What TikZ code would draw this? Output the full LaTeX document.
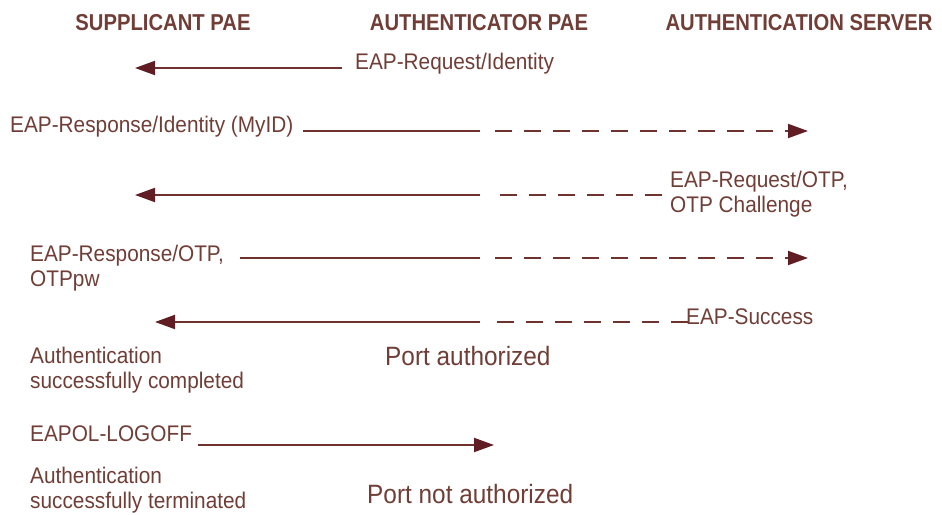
\documentclass[tikz,border=0pt]{standalone}
\usepackage{fontspec}
\setmainfont[FakeStretch=0.92]{Liberation Sans}
\newfontfamily\headfont[FakeStretch=0.88]{Liberation Sans}
\usetikzlibrary{arrows.meta}
\definecolor{txtbrown}{RGB}{112,62,54}
\definecolor{linebrown}{RGB}{112,50,46}
\definecolor{headbrown}{RGB}{96,30,36}
\tikzset{
  heading/.style={anchor=base, inner sep=0pt, text=txtbrown,
    font=\headfont\fontsize{23}{26}\selectfont\bfseries},
  msg/.style={anchor=base west, inner sep=0pt, text=txtbrown,
    font=\fontsize{22.6}{25}\selectfont, align=left},
  portlbl/.style={anchor=base west, inner sep=0pt, text=txtbrown,
    font=\fontsize{26.5}{28}\selectfont},
  wire/.style={draw=linebrown, line width=2pt},
  dashwire/.style={wire, dash pattern=on 17pt off 12pt},
  tip/.style={-{Triangle[length=20pt,width=14pt,fill=headbrown,color=headbrown]}}
}
\begin{document}
\begin{tikzpicture}[x=1pt,y=-1pt]
  \useasboundingbox (0,0) rectangle (942,514);

  % column headings
  \node[heading] (hsupp) at (163,30) {SUPPLICANT PAE};
  \node[heading] (hauth) at (479,30) {AUTHENTICATOR PAE};
  \node[heading] (hserv) at (799,30) {AUTHENTICATION SERVER};

  % 1: EAP-Request/Identity
  \node[msg] (m1) at (355,69) {EAP-Request/Identity};
  \coordinate (m1a) at (342,68);
  \coordinate (m1b) at (135,68);
  \draw[wire,tip] (m1a) -- (m1b);

  % 2: EAP-Response/Identity (MyID)
  \node[msg] (m2) at (10,132) {EAP-Response/Identity (MyID)};
  \coordinate (m2a) at (303,131);
  \coordinate (m2m) at (480,131);
  \coordinate (m2b) at (808,131);
  \draw[wire] (m2a) -- (m2m);
  \draw[dashwire,tip] ([xshift=15pt]m2m) -- (m2b);

  % 3: EAP-Request/OTP, OTP Challenge (base = last line)
  \node[msg] (m3) at (670,212) {EAP-Request/OTP,\\OTP Challenge};
  \coordinate (m3a) at (662,195);
  \coordinate (m3m) at (480,195);
  \coordinate (m3b) at (135,195);
  \draw[dashwire] (m3a) -- ([xshift=15pt]m3m);
  \draw[wire,tip] (m3m) -- (m3b);

  % 4: EAP-Response/OTP, OTPpw
  \node[msg] (m4) at (30,286) {EAP-Response/OTP,\\OTPpw};
  \coordinate (m4a) at (240,258);
  \coordinate (m4m) at (480,258);
  \coordinate (m4b) at (808,258);
  \draw[wire] (m4a) -- (m4m);
  \draw[dashwire,tip] ([xshift=15pt]m4m) -- (m4b);

  % 5: EAP-Success
  \node[msg] (m5) at (686,324) {EAP-Success};
  \coordinate (m5a) at (688,322);
  \coordinate (m5m) at (480,322);
  \coordinate (m5b) at (155,322);
  \draw[dashwire] (m5a) -- ([xshift=15pt]m5m);
  \draw[wire,tip] (m5m) -- (m5b);

  % outcome of authentication
  \node[msg] (done) at (30,388) {Authentication\\successfully completed};
  \node[portlbl] (pauth) at (385,365) {Port authorized};

  % logoff
  \node[msg] (logoff) at (30,441) {EAPOL-LOGOFF};
  \coordinate (loa) at (198,445);
  \coordinate (lob) at (494,445);
  \draw[wire,tip] (loa) -- (lob);

  \node[msg] (term) at (30,508) {Authentication\\successfully terminated};
  \node[portlbl] (pnot) at (367,503) {Port not authorized};
\end{tikzpicture}
\end{document}
